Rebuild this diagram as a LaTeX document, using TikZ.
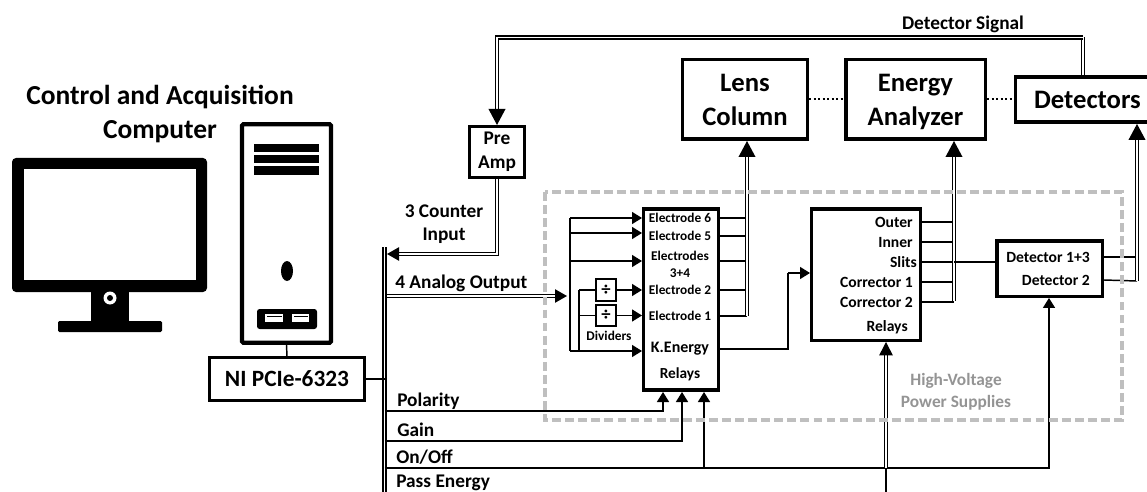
\documentclass[tikz,border=0pt]{standalone}
\usepackage{fontspec}
\usepackage{xcolor}
\setmainfont{Carlito}
\usepackage{tikz}
\usetikzlibrary{arrows.meta, positioning}
\newcommand{\fsz}[2]{\fontsize{#1}{#2}\selectfont\bfseries}

\begin{document}
\begin{tikzpicture}[
    x=0.75pt, y=-0.75pt,
    every node/.style={inner sep=0pt, align=center, text=black},
    box/.style={draw, fill=white, line width=2.6pt, font=\fsz{20}{25.5}},
    relaybox/.style={draw, fill=white, line width=2.6pt},
    divbox/.style={draw, fill=white, line width=1.4pt, minimum width=15pt, minimum height=16pt, font=\fsz{14}{14}},
    wire/.style={line width=1.1pt},
    sig/.style={wire, ->, >={Triangle[length=7.5pt,width=9pt]}},
    dbl/.style={line width=1.05pt, double distance=1.4pt},
    dblsmall/.style={dbl, ->, >={Triangle[length=9pt,width=10pt]}},
    dblbig/.style={dbl, ->, >={Triangle[length=12pt,width=12.5pt]}},
    elec/.style={font=\fsz{10}{12.75}},
    outp/.style={font=\fsz{11.7}{14}, anchor=east},
    buslab/.style={font=\fsz{14.5}{17}},
    hv/.style={font=\fsz{13}{16.5}, text=black!42},
    dots/.style={line width=1.5pt, dash pattern=on 1.6pt off 1.8pt},
]
    \clip (0,0) rectangle (1147,492);

    % Monitor
    \fill[rounded corners=3pt] (12,158) rectangle (207,292);
    \fill[white] (24,169) rectangle (196,280);
    \fill (91,290) rectangle (129,324);
    \fill[rounded corners=1pt] (58,321) rectangle (162,332);
    \fill[white] (110,298) circle (6.5);
    \fill (110,298) circle (3);

    % Tower
    \node[draw, line width=3.2pt, rounded corners=1pt, minimum width=66.7pt, minimum height=164pt] (tower) at (286.5,233.5) {};
    \fill (254,144) rectangle (319,152);
    \fill (254,155) rectangle (319,163);
    \fill (254,166) rectangle (319,175);
    \fill (287,271) ellipse (6 and 10);
    \fill[rounded corners=2pt] (257,309) rectangle (317,329);
    \fill[white] (265,314) rectangle (283,322);
    \fill[white] (292,314) rectangle (309,322);
    \fill (266.5,315.5) rectangle (281.5,317);
    \fill (293.5,315.5) rectangle (307.5,317);

    % Titles
    \node[font=\fsz{20.6}{25.5}] (ctitle) at (160,114) {Control and Acquisition\\Computer};
    \node[font=\fsz{14.5}{17}] (dsignal) at (963,24) {Detector Signal};

    % Blocks
    \node[draw, fill=white, line width=2.2pt, minimum width=116pt, minimum height=32pt, font=\fsz{17.5}{20}] (ni) at (287,379) {NI PCIe-6323};
    \node[box, minimum width=41.6pt, minimum height=37.9pt, font=\fsz{14.5}{17}] (preamp) at (497,152) {Pre\\[0pt]\raisebox{-1pt}{Amp}};
    \node[box, minimum width=93.4pt, minimum height=59.6pt] (lens) at (745,99.5) {Lens\\Column};
    \node[box, minimum width=104.6pt, minimum height=59.6pt] (energy) at (915.5,99.5) {Energy\\\smash{Analyzer}};
    \node[box, minimum width=108pt, minimum height=34pt] (detectors) at (1087.5,99.5) {Detectors};
    \node[relaybox, minimum width=55.9pt, minimum height=136pt] (relayA) at (681,299.5) {};
    \node[relaybox, minimum width=81.4pt, minimum height=98.6pt] (relayB) at (866,274.5) {};
    \node[relaybox, minimum width=79.1pt, minimum height=41.6pt] (detbox) at (1049.5,268.5) {};
    \node[divbox] (divA) at (606,290) {÷};
    \node[divbox] (divB) at (606,315.5) {÷};

    % Labels inside the relays
    \node[elec] (esix) at (680,218) {Electrode 6};
    \node[elec] (efive) at (680,236) {Electrode 5};
    \node[elec] (ethree) at (680,264.5) {Electrodes\\3+4};
    \node[elec] (etwo) at (680,290) {Electrode 2};
    \node[elec] (eone) at (680,316) {Electrode 1};
    \node[font=\fsz{12}{14}] (kenergy) at (680,349) {K.Energy};
    \node[font=\fsz{11.5}{14}] (relaysA) at (680,374) {Relays};
    \node[font=\fsz{10}{12}] (dividers) at (609,336) {Dividers};
    \node[outp] (outer) at (913,222) {Outer};
    \node[outp] (inner) at (913,242) {Inner};
    \node[outp] (slits) at (917,262) {Slits};
    \node[outp] (corrA) at (913,282) {Corrector 1};
    \node[outp] (corrB) at (913,302) {Corrector 2};
    \node[outp] (relaysB) at (908,327) {Relays};
    \node[font=\fsz{11.7}{14}] (detA) at (1048,257) {Detector 1+3};
    \node[outp] (detB) at (1090,280) {Detector 2};
    \node[hv] (hvps) at (956,392) {High-Voltage\\Power Supplies};

    % Bus labels
    \node[buslab] (counter) at (444,224) {3 Counter\\Input};
    \node[buslab, anchor=west] (analog) at (395,283) {4 Analog Output};
    \node[buslab, anchor=west] (polarity) at (397,401.5) {Polarity};
    \node[buslab, anchor=west] (gain) at (397,430) {Gain};
    \node[buslab, anchor=west] (onoff) at (396,457) {On/Off};
    \node[buslab, anchor=west] (passen) at (396,482.5) {Pass Energy};

    % Junctions
    \coordinate (bustop) at (384.5,247);
    \coordinate (busbot) at (384.5,500);
    \coordinate (cntin) at (387,254);
    \coordinate (busedge) at (387,296);
    \coordinate (tapsix) at (570,218);
    \coordinate (tapfive) at (570,233);
    \coordinate (tapthree) at (570,261);
    \coordinate (tapk) at (570,351);
    \coordinate (tapdiv) at (579,351);
    \coordinate (lensbus) at (747,316);
    \coordinate (anabus) at (954,301);
    \coordinate (detbus) at (1137,281);
    \coordinate (sigtop) at (1083,37.5);
    \coordinate (anain) at (567,296);
    \coordinate (kout) at (788,349);
    \coordinate (kin) at (788,273);
    \coordinate (polout) at (384.5,411);
    \coordinate (polin) at (663,392);
    \coordinate (gainout) at (384.5,441);
    \coordinate (gainin) at (682,392);
    \coordinate (onout) at (384.5,468);
    \coordinate (onin) at (704,392);
    \coordinate (ontap) at (704,468);
    \coordinate (detin) at (1049,468);
    \coordinate (pecross) at (886,468);
    \coordinate (pebot) at (886,500);

    % Computer side
    \draw[wire] (tower.south) -- (ni.north);
    \draw[dbl] (bustop) -- (busbot);
    \draw[wire] (ni.east) -- (ni.east -| bustop);

    % Detector signal and counters
    \draw[dbl] (detectors.north -| sigtop) -- (sigtop);
    \draw[dblbig] (sigtop) -| (preamp.north);
    \draw[dblsmall] (preamp.south) |- (cntin);
    \draw[dblsmall] (busedge) -- (anain);

    % Electrode inputs
    \draw[wire] (tapsix) -- (tapk);
    \draw[wire] (divA.west -| tapdiv) -- (tapdiv);
    \draw[wire] (divA.west -| tapdiv) -- (divA.west);
    \draw[wire] (divB.west -| tapdiv) -- (divB.west);
    \foreach \tap in {tapsix,tapfive,tapthree,tapk}
        \draw[sig] (\tap) -- (\tap -| relayA.west);
    \draw[sig] (divA.east) -- (divA.east -| relayA.west);
    \draw[sig] (divB.east) -- (divB.east -| relayA.west);

    % Electrode outputs
    \foreach \lab in {esix,efive,tapthree,etwo,eone}
        \draw[wire] (\lab -| relayA.east) -- (\lab -| lensbus);
    \draw[dblbig] (lensbus) -- (lensbus |- lens.south);
    \draw[wire] (relayA.east |- kout) -- (kout) -- (kin);
    \draw[sig] (kin) -- (kin -| relayB.west);

    % Analyzer outputs
    \foreach \lab in {outer,inner,slits,corrA,corrB}
        \draw[wire] (\lab -| relayB.east) -- (\lab -| anabus);
    \draw[dblbig] (anabus) -- (anabus |- energy.south);
    \draw[wire] (slits -| anabus) -- (slits -| detbox.west);

    % Detector outputs
    \draw[wire] (detA -| detbox.east) -- (detA -| detbus);
    \draw[wire] (detB -| detbox.east) -- (detbus);
    \draw[dblbig] (detbus) -- (detbus |- detectors.south);

    % Control lines
    \draw[sig] (polout) -| (polin);
    \draw[sig] (gainout) -| (gainin);
    \draw[sig] (ontap) -- (onin);
    \draw[sig] (onout) -| (detin) -- (detin |- detbox.south);
    \draw[wire] (pebot) -- (pecross);
    \draw[dblsmall, >={Triangle[length=10pt,width=10pt]}] (pecross) -- (pecross |- relayB.south);

    % Dotted links
    \draw[dots] (lens.east) -- (energy.west);
    \draw[dots] (energy.east) -- (detectors.west);

    % Supplies frame
    \draw[black!25, line width=2.4pt, dash pattern=on 6.6pt off 3.2pt] (545,192) rectangle (1122,420);
\end{tikzpicture}
\end{document}
